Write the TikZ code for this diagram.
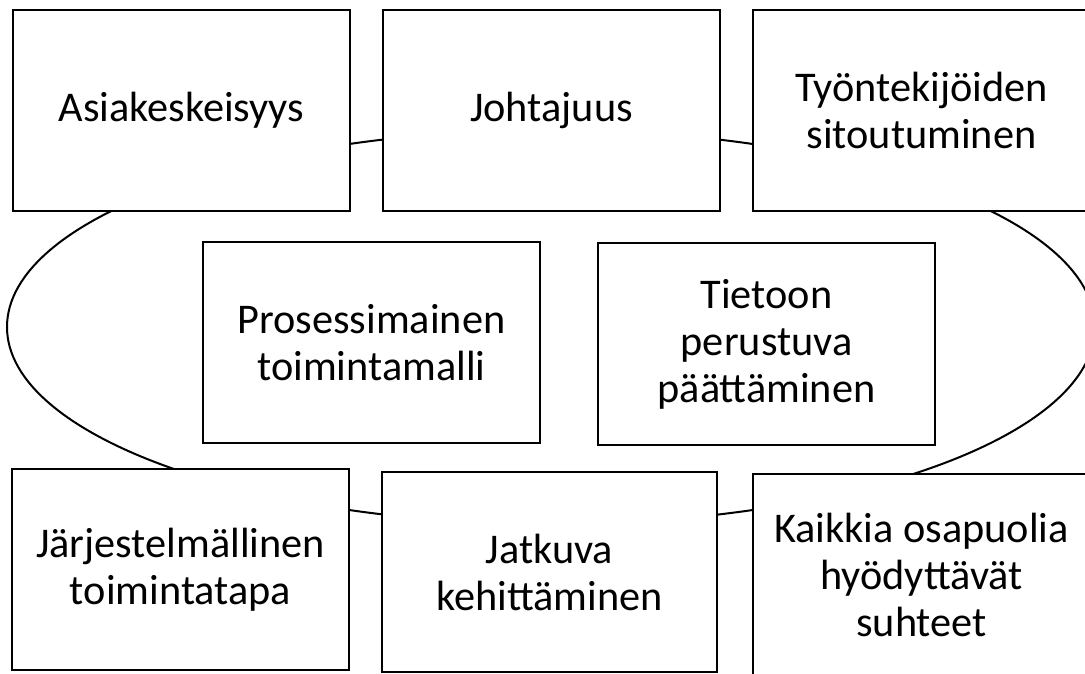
\documentclass[tikz,border=0pt]{standalone}
\usepackage{fontspec}
\setmainfont{Carlito}
\begin{document}
\begin{tikzpicture}[x=1pt,y=-1pt,
  box/.style={draw=black, fill=white, line width=2.2pt, rectangle, inner sep=0pt,
    minimum width=337pt, minimum height=201pt, align=center,
    font=\fontsize{42.3}{47}\selectfont},
  ring/.style={draw=black, line width=2pt}]
\useasboundingbox (0,0) rectangle (1085,673);
\clip (0,0) rectangle (1085,673);
\draw[ring] (551,327) ellipse [x radius=544, y radius=197];
\node[box] (asiakas) at (181.5,110.5) {Asiakeskeisyys};
\node[box] (johto) at (551.5,110.5) {Johtajuus};
\node[box] (tyont) at (921.5,110.5) {Työntekijöiden\\sitoutuminen};
\node[box] (prosessi) at (371.5,342.5) {Prosessimainen\\toimintamalli};
\node[box, minimum height=202pt] (tieto) at (766.5,344) {Tietoon\\perustuva\\päättäminen};
\node[box] (jarj) at (180.5,569.5) {Järjestelmällinen\\toimintatapa};
\node[box, minimum width=335pt, minimum height=200pt] (jatkuva) at (549.5,572) {Jatkuva\\kehittäminen};
\node[box] (kaikki) at (921.5,574.5) {Kaikkia osapuolia\\hyödyttävät\\suhteet};
\end{tikzpicture}
\end{document}
